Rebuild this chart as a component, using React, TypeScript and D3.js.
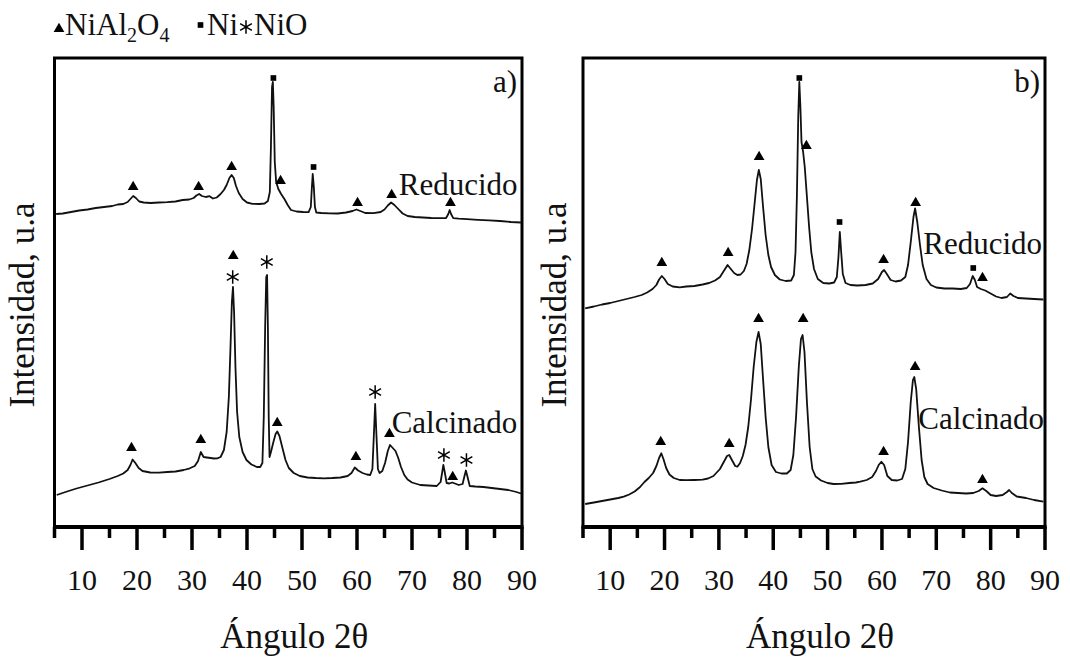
import React from 'react';
import * as d3 from 'd3';

// ---------- data ----------
const xMajorTicks = [10, 20, 30, 40, 50, 60, 70, 80, 90];
const xMinorTicks = [5, 15, 25, 35, 45, 55, 65, 75, 85];
const xDomain: [number, number] = [5, 90];
const yDomain: [number, number] = [0, 469];

// Panel a) – Reducido (stacked, arbitrary units)
const reducidoA: [number, number][] = [
  [5.3,313],[6.5,313.5],[8,315],[9.5,316.5],[11,317.5],[12.5,319],[14,320],[15.5,321],[16.5,322.5],[17.5,323],
  [18.3,325],[18.8,328],[19.3,331],[19.8,329],[20.4,325.5],[21.2,324.5],[22.5,324],[24,324.5],[25.5,324.8],[27,325.5],
  [28.3,327],[29.5,327.5],[30.3,329],[30.8,331.5],[31.3,333],[31.8,331],[32.5,330],[33.2,330.8],[33.8,328.5],[34.5,329.5],
  [35.2,333],[35.8,337],[36.3,342],[36.8,349],[37.2,352],[37.6,349],[38,341],[38.5,334],[39.2,328],[40,324.5],
  [41,323.2],[42.2,323],[43.2,323.5],[43.8,326],[44.15,335],[44.35,380],[44.55,440],[44.7,445],[44.85,420],[45.05,365],
  [45.3,345],[45.7,338],[46.2,333],[46.8,328],[47.4,322],[48,317],[49,315.5],[50.2,315],[51.2,314.8],[51.6,320],
  [51.8,340],[51.95,353],[52.15,340],[52.35,320],[52.6,314.5],[53.5,314],[55,313.7],[56.5,313.5],[58,314.5],[59.2,316],
  [59.9,317.5],[60.6,316],[61.5,314],[63,313.8],[64.3,315],[65,317.5],[65.6,321.5],[66.2,324.5],[66.8,322],[67.5,318],
  [68.3,313.5],[69.2,311],[70.5,310],[72,309.5],[73.5,309],[75,308.8],[76.2,309],[76.6,313],[76.85,317],[77.1,313],
  [77.5,308.8],[78.5,308.3],[80,307.8],[82,307.2],[84,306.7],[86,306],[88,305],[89.8,304.5]
];

// Panel a) – Calcinado
const calcinadoA: [number, number][] = [
  [5.4,32],[7,35],[9,38.5],[11,41.5],[13,44.5],[15,48],[16.5,51],[17.5,53.5],[18.3,57],[18.8,62],
  [19.2,67.5],[19.7,64],[20.3,59],[21,56],[22.4,54.5],[24,54.3],[25.5,55],[27,55.5],[28.5,57],[29.6,58.7],
  [30.5,61],[31.1,66],[31.6,75],[32.1,70],[32.7,69.5],[33.4,69],[34,68.5],[34.6,68.7],[35.2,70],[35.8,77],
  [36.3,95],[36.7,130],[37,180],[37.25,225],[37.45,240],[37.65,215],[37.9,160],[38.2,115],[38.6,90],[39.2,75],
  [39.9,67],[40.8,62.5],[41.8,60],[42.4,60],[42.8,64],[43.05,110],[43.3,200],[43.5,250],[43.65,252],[43.8,200],
  [43.95,110],[44.1,70],[44.4,76],[44.8,85],[45.2,93],[45.5,95.5],[45.9,91],[46.4,80],[47,67],[47.6,59],
  [48.5,54],[49.6,51],[51,49.5],[52.5,49],[54,48.7],[55.5,49],[57,49.5],[58.3,51],[59,54],[59.6,59.5],
  [60.2,56.5],[61,54],[61.8,52.5],[62.4,52],[62.8,58],[63.05,90],[63.3,123],[63.55,90],[63.8,58],[64.1,54],
  [64.6,56],[65.1,64],[65.6,76],[66,82],[66.5,79],[67,76],[67.5,69],[68,60],[68.6,52],[69.2,47.5],
  [70,44.5],[71.5,42],[73,41.5],[74.5,41],[75.2,45],[75.5,55],[75.7,62],[75.95,55],[76.3,44],[76.8,43.5],
  [77.3,44.5],[77.8,43.5],[78.5,42],[79.2,43],[79.5,50],[79.8,56.5],[80.1,50],[80.5,41],[81.5,40.5],[83,40],
  [84.5,39],[86,38],[87.5,37],[89,35],[89.8,33.5]
];

// Panel b) – Reducido
const reducidoB: [number, number][] = [
  [5.4,218.7],[7,220.5],[8.5,222.5],[10,224],[11.5,226],[13,228],[14.5,230],[15.8,232],[16.8,234.5],[17.8,238],
  [18.5,242],[19,247.5],[19.5,251],[20,248],[20.6,243],[21.5,240.5],[22.8,239.7],[24,240.5],[25.5,241],[27,242.5],
  [28.2,244],[29.3,246.5],[30.2,250],[30.9,256],[31.6,262],[32.2,258],[32.8,254],[33.4,252],[34,252.5],[34.6,256],
  [35.1,263],[35.6,277],[36.1,298],[36.6,325],[37,347],[37.35,357],[37.7,348],[38.1,322],[38.6,292],[39.1,272],
  [39.6,260],[40.3,252],[41.2,247.5],[42.3,246],[43.3,246.5],[43.8,252],[44.1,275],[44.35,330],[44.6,410],[44.8,445],
  [45,420],[45.2,385],[45.5,375],[45.8,360],[46.2,330],[46.6,300],[47,275],[47.5,258],[48.2,248],[49.2,244],
  [50.3,243.5],[51.2,244.5],[51.7,250],[52,270],[52.25,295],[52.5,275],[52.8,253],[53.3,244],[54.2,242],[55.5,241.5],
  [57,242],[58.3,243.5],[59.3,248],[60,255],[60.4,257],[60.9,253],[61.6,247],[62.5,245.5],[63.5,246.5],[64.3,250],
  [64.8,262],[65.3,285],[65.8,310],[66.1,318.5],[66.5,305],[67,282],[67.5,262],[68.2,248],[69,242],[70,239.5],
  [71.5,238.5],[73,238.5],[74.5,238],[75.6,239],[76.2,243],[76.7,251],[77.1,247],[77.5,240],[78.2,238],[79,236.5],
  [80,233.5],[81,230.5],[82,229],[83,230],[83.6,233.5],[84.2,231],[85,229],[86.5,228.5],[88,228],[89.7,227.5]
];

// Panel b) – Calcinado
const calcinadoB: [number, number][] = [
  [5.4,23],[7,24.5],[8.5,26],[10,27.5],[11.5,29],[12.5,30.3],[13.5,32.5],[14.5,35.5],[15.5,40],[16.3,45],
  [17.1,49],[17.9,54],[18.5,61],[19,69],[19.4,73.7],[19.8,68],[20.3,59],[20.9,52.5],[21.7,49],[22.8,47],
  [24,46.8],[25.5,47],[27,47.3],[28,48.5],[29,51],[30.2,58],[30.9,65],[31.5,71],[31.9,72],[32.4,67],
  [33,61],[33.4,60.3],[33.9,64],[34.4,71],[34.9,82],[35.4,100],[35.9,127],[36.4,160],[36.9,185],[37.3,195],
  [37.7,183],[38.1,150],[38.6,110],[39.1,80],[39.7,62],[40.5,55],[41.5,53.5],[42.5,53.5],[43.2,57],[43.7,72],
  [44.2,110],[44.7,160],[45.1,188],[45.4,192],[45.75,175],[46.2,125],[46.7,80],[47.2,58],[47.8,50.5],[48.8,46.5],
  [50,44],[51.1,43],[52.5,43.2],[54,44],[55.2,44.5],[56,45.3],[57.2,47],[58.2,50],[58.9,56],[59.4,62],
  [59.9,65.3],[60.4,62],[61,51],[61.8,47],[62.8,46.5],[63.7,48],[64.3,58],[64.8,85],[65.3,125],[65.7,147],
  [65.95,150],[66.3,138],[66.8,100],[67.3,67],[67.8,50],[68.4,43],[69.5,39],[71,36.5],[72.5,34.5],[74,34],
  [75.5,33.5],[76.8,34],[77.8,36],[78.5,38.7],[79.2,36],[80,32],[81,31],[82.2,32],[83,35],[83.4,37],
  [83.9,34],[84.8,30.5],[86.5,29],[88,27],[89.7,25.3]
];

// Phase markers: [2θ, intensity, phase]
type Phase = 'NiAl2O4' | 'Ni' | 'NiO';
const markersA: [number, number, Phase][] = [
  [19.3,340,'NiAl2O4'],[31.2,340,'NiAl2O4'],[37.2,360,'NiAl2O4'],[44.8,449,'Ni'],[46.1,346,'NiAl2O4'],
  [52.1,360,'Ni'],[60.1,324,'NiAl2O4'],[66.3,332,'NiAl2O4'],[77.0,324,'NiAl2O4'],
  [19.0,79,'NiAl2O4'],[31.6,87,'NiAl2O4'],[37.5,271,'NiAl2O4'],[37.4,250,'NiO'],[43.6,265,'NiO'],
  [45.5,104,'NiAl2O4'],[59.8,70,'NiAl2O4'],[63.3,135,'NiO'],[65.9,93,'NiAl2O4'],[75.8,72,'NiO'],
  [77.4,50,'NiAl2O4'],[79.9,67,'NiO']
];
const markersB: [number, number, Phase][] = [
  [19.5,264,'NiAl2O4'],[31.7,274,'NiAl2O4'],[37.4,370,'NiAl2O4'],[44.8,449,'Ni'],[46.1,381,'NiAl2O4'],
  [52.2,305,'Ni'],[60.3,267,'NiAl2O4'],[66.2,324,'NiAl2O4'],[76.8,259,'Ni'],[78.5,249,'NiAl2O4'],
  [19.3,85,'NiAl2O4'],[31.9,83,'NiAl2O4'],[37.3,208,'NiAl2O4'],[45.5,208,'NiAl2O4'],[60.3,75,'NiAl2O4'],
  [66.1,160,'NiAl2O4'],[78.5,47,'NiAl2O4']
];

// Curve labels: [text, 2θ, intensity]
const labelsA: [string, number, number][] = [['Reducido', 67.6, 332], ['Calcinado', 66.3, 94]];
const labelsB: [string, number, number][] = [['Reducido', 67.6, 273], ['Calcinado', 66.7, 98]];

const FONT = "'Liberation Serif', 'Times New Roman', Tinos, serif";
const TOP = 58;
const BOTTOM = 527;

function Marker({ x, y, phase }: { x: number; y: number; phase: Phase }) {
  if (phase === 'NiAl2O4') {
    const p = d3.symbol(d3.symbolTriangle, 50)()!;
    return <path d={p} transform={`translate(${x},${y})`} fill="#000" />;
  }
  if (phase === 'Ni') {
    const p = d3.symbol(d3.symbolSquare, 32)()!;
    return <path d={p} transform={`translate(${x},${y})`} fill="#000" />;
  }
  const p = d3.symbol(d3.symbolAsterisk, 130)()!;
  return <path d={p} transform={`translate(${x},${y})`} fill="none" stroke="#000" strokeWidth={1.5} />;
}

function Panel({ left, right, curves, markers, labels, tag, yLabelX }: {
  left: number; right: number; curves: [number, number][][]; markers: [number, number, Phase][];
  labels: [string, number, number][]; tag: string; yLabelX: number;
}) {
  const x = d3.scaleLinear(xDomain, [left, right]);
  const y = d3.scaleLinear(yDomain, [BOTTOM, TOP]);
  const line = d3.line<[number, number]>().x(d => x(d[0])).y(d => y(d[1]));
  const cx = (left + right) / 2;
  return (
    <g>
      {curves.map((c, i) => (
        <path key={i} d={line(c)!} fill="none" stroke="#111" strokeWidth={1.8} strokeLinejoin="round" />
      ))}
      {markers.map((m, i) => <Marker key={i} x={x(m[0])} y={y(m[1])} phase={m[2]} />)}
      {labels.map((l, i) => (
        <text key={i} x={x(l[1])} y={y(l[2])} fontSize={31} style={{ fontFamily: FONT }} fill="#111">{l[0]}</text>
      ))}
      <text x={right - 5} y={92} textAnchor="end" fontSize={31} style={{ fontFamily: FONT }} fill="#111">{tag}</text>
      <rect x={left} y={TOP} width={right - left} height={BOTTOM - TOP} fill="none" stroke="#000" strokeWidth={3} />
      <line x1={left - 1.5} x2={right + 1.5} y1={BOTTOM} y2={BOTTOM} stroke="#000" strokeWidth={4} />
      {xMajorTicks.map(t => (
        <line key={'M' + t} x1={x(t)} x2={x(t)} y1={BOTTOM} y2={BOTTOM + 23} stroke="#000" strokeWidth={3.5} />
      ))}
      {xMinorTicks.map(t => (
        <line key={'m' + t} x1={x(t)} x2={x(t)} y1={BOTTOM} y2={BOTTOM + 11} stroke="#000" strokeWidth={3.5} />
      ))}
      {xMajorTicks.map(t => (
        <text key={'L' + t} x={x(t)} y={590} textAnchor="middle" fontSize={30} style={{ fontFamily: FONT }} fill="#111">{t}</text>
      ))}
      <text x={cx + 6} y={648} textAnchor="middle" fontSize={35} style={{ fontFamily: FONT }} fill="#111">Ángulo 2θ</text>
      <text transform={`translate(${yLabelX},305) rotate(-90)`} textAnchor="middle" fontSize={35} style={{ fontFamily: FONT }} fill="#111">Intensidad, u.a</text>
    </g>
  );
}

export default function App() {
  return (
    <svg width={1070} height={658} style={{ position: 'absolute', left: 0, top: 0, background: '#fff' }}>
      <rect width={1070} height={658} fill="#fff" />
      {/* legend */}
      <Marker x={59} y={29} phase="NiAl2O4" />
      <text x={65} y={35} fontSize={31} style={{ fontFamily: FONT }} fill="#111">
        NiAl<tspan fontSize={20} dy={7}>2</tspan><tspan dy={-7}>O</tspan><tspan fontSize={20} dy={7}>4</tspan>
      </text>
      <Marker x={200.5} y={25} phase="Ni" />
      <text x={207} y={35} fontSize={31} style={{ fontFamily: FONT }} fill="#111">Ni</text>
      <Marker x={246} y={27} phase="NiO" />
      <text x={254} y={35} fontSize={31} style={{ fontFamily: FONT }} fill="#111">NiO</text>
      <Panel left={54.5} right={522} curves={[reducidoA, calcinadoA]} markers={markersA} labels={labelsA} tag="a)" yLabelX={34} />
      <Panel left={583} right={1045} curves={[reducidoB, calcinadoB]} markers={markersB} labels={labelsB} tag="b)" yLabelX={566} />
    </svg>
  );
}
